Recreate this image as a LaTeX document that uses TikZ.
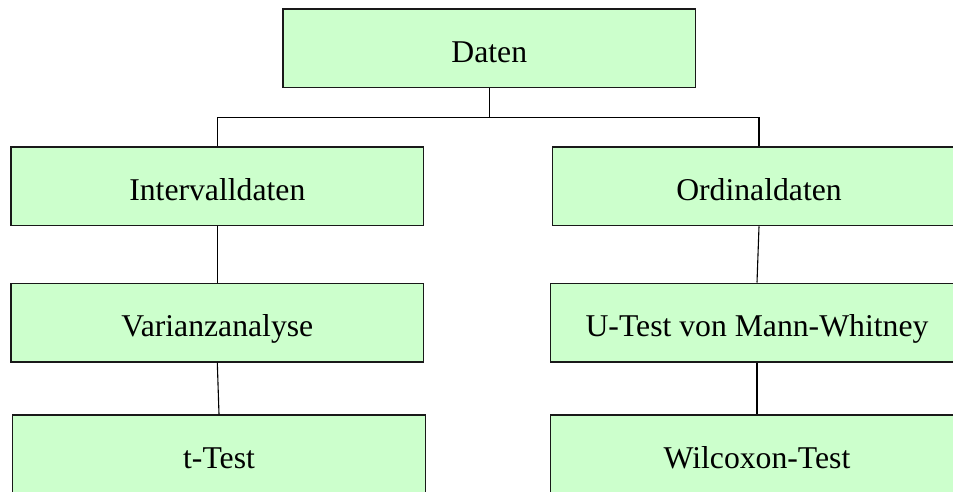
\documentclass[tikz,border=0pt]{standalone}
\usepackage{fontspec}
\setmainfont{Liberation Serif}
\definecolor{boxgreen}{HTML}{CCFFCC}
\begin{document}
\begin{tikzpicture}[x=1pt,y=-1pt,
  box/.style={draw=black!90, line width=1.5pt, fill=boxgreen,
    minimum width=412.7pt, minimum height=78.5pt, inner sep=0pt,
    text height=29.5pt, text depth=1.5pt,
    font=\fontsize{31.7}{38}\selectfont},
  link/.style={draw=black, line width=1.1pt}]
\useasboundingbox (0,0) rectangle (953,492);
\clip (0,0) rectangle (953,492);
\node[box] (daten)   at (489.3,48.3)  {Daten};
\node[box] (interv)  at (217.3,186.4) {Intervalldaten};
\node[box] (ordinal) at (759,186.4)   {Ordinaldaten};
\node[box] (varianz) at (217.3,322.5) {Varianzanalyse};
\node[box] (utest)   at (757,322.5)   {U-Test von Mann-Whitney};
\node[box] (ttest)   at (219,454.3)   {t-Test};
\node[box] (wilcox)  at (757,454.3)   {Wilcoxon-Test};
\coordinate (fork) at (489.3,117.5);
\draw[link] (daten.south) -- (fork);
\draw[link] (interv.north) |- (fork) -| (ordinal.north);
\draw[link] (interv.south) -- (varianz.north);
\draw[link] (varianz.south) -- (ttest.north);
\draw[link] (ordinal.south) -- (utest.north);
\draw[link] (utest.south) -- (wilcox.north);
\end{tikzpicture}
\end{document}
